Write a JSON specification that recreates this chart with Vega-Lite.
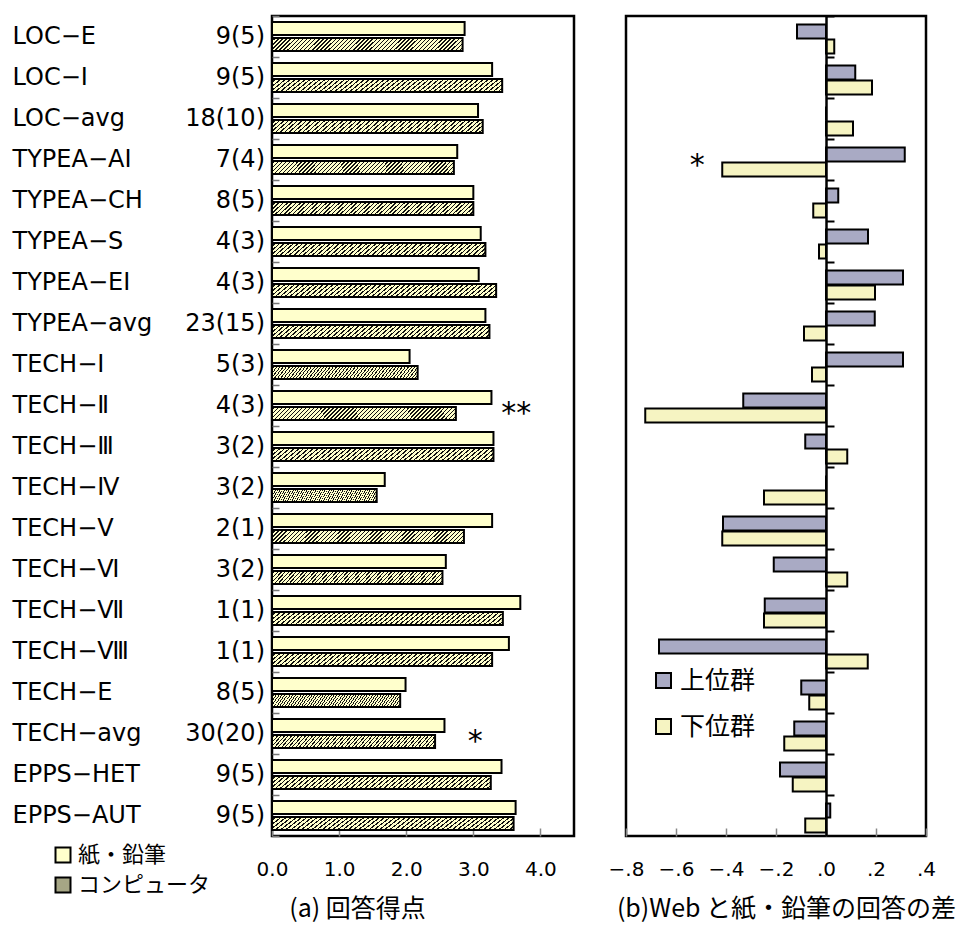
{
  "$schema": "https://vega.github.io/schema/vega-lite/v6.json",
  "padding": {"left": 10, "top": 2, "right": 0, "bottom": 0},
  "background": "white",
  "config": {
    "view": {"stroke": null},
    "axis": {"labelColor": "black", "titleColor": "black", "grid": false},
    "legend": {"padding": 0}
  },
  "datasets": {
    "labels": [
      {"key": "LOC−E", "count": "9(5)"},
      {"key": "LOC−I", "count": "9(5)"},
      {"key": "LOC−avg", "count": "18(10)"},
      {"key": "TYPEA−AI", "count": "7(4)"},
      {"key": "TYPEA−CH", "count": "8(5)"},
      {"key": "TYPEA−S", "count": "4(3)"},
      {"key": "TYPEA−EI", "count": "4(3)"},
      {"key": "TYPEA−avg", "count": "23(15)"},
      {"key": "TECH−Ⅰ", "count": "5(3)"},
      {"key": "TECH−Ⅱ", "count": "4(3)"},
      {"key": "TECH−Ⅲ", "count": "3(2)"},
      {"key": "TECH−Ⅳ", "count": "3(2)"},
      {"key": "TECH−Ⅴ", "count": "2(1)"},
      {"key": "TECH−Ⅵ", "count": "3(2)"},
      {"key": "TECH−Ⅶ", "count": "1(1)"},
      {"key": "TECH−Ⅷ", "count": "1(1)"},
      {"key": "TECH−E", "count": "8(5)"},
      {"key": "TECH−avg", "count": "30(20)"},
      {"key": "EPPS−HET", "count": "9(5)"},
      {"key": "EPPS−AUT", "count": "9(5)"}
    ],
    "scores": [
      {"key": "LOC−E", "series": "紙・鉛筆", "value": 2.87},
      {"key": "LOC−E", "series": "コンピュータ", "value": 2.84},
      {"key": "LOC−I", "series": "紙・鉛筆", "value": 3.28},
      {"key": "LOC−I", "series": "コンピュータ", "value": 3.43},
      {"key": "LOC−avg", "series": "紙・鉛筆", "value": 3.07},
      {"key": "LOC−avg", "series": "コンピュータ", "value": 3.14},
      {"key": "TYPEA−AI", "series": "紙・鉛筆", "value": 2.76},
      {"key": "TYPEA−AI", "series": "コンピュータ", "value": 2.71},
      {"key": "TYPEA−CH", "series": "紙・鉛筆", "value": 3.0},
      {"key": "TYPEA−CH", "series": "コンピュータ", "value": 3.0},
      {"key": "TYPEA−S", "series": "紙・鉛筆", "value": 3.11},
      {"key": "TYPEA−S", "series": "コンピュータ", "value": 3.18},
      {"key": "TYPEA−EI", "series": "紙・鉛筆", "value": 3.08},
      {"key": "TYPEA−EI", "series": "コンピュータ", "value": 3.34},
      {"key": "TYPEA−avg", "series": "紙・鉛筆", "value": 3.18},
      {"key": "TYPEA−avg", "series": "コンピュータ", "value": 3.24},
      {"key": "TECH−Ⅰ", "series": "紙・鉛筆", "value": 2.05},
      {"key": "TECH−Ⅰ", "series": "コンピュータ", "value": 2.17},
      {"key": "TECH−Ⅱ", "series": "紙・鉛筆", "value": 3.27},
      {"key": "TECH−Ⅱ", "series": "コンピュータ", "value": 2.74},
      {"key": "TECH−Ⅲ", "series": "紙・鉛筆", "value": 3.3},
      {"key": "TECH−Ⅲ", "series": "コンピュータ", "value": 3.3},
      {"key": "TECH−Ⅳ", "series": "紙・鉛筆", "value": 1.68},
      {"key": "TECH−Ⅳ", "series": "コンピュータ", "value": 1.56},
      {"key": "TECH−Ⅴ", "series": "紙・鉛筆", "value": 3.28},
      {"key": "TECH−Ⅴ", "series": "コンピュータ", "value": 2.86},
      {"key": "TECH−Ⅵ", "series": "紙・鉛筆", "value": 2.59},
      {"key": "TECH−Ⅵ", "series": "コンピュータ", "value": 2.54},
      {"key": "TECH−Ⅶ", "series": "紙・鉛筆", "value": 3.7},
      {"key": "TECH−Ⅶ", "series": "コンピュータ", "value": 3.44},
      {"key": "TECH−Ⅷ", "series": "紙・鉛筆", "value": 3.53},
      {"key": "TECH−Ⅷ", "series": "コンピュータ", "value": 3.28},
      {"key": "TECH−E", "series": "紙・鉛筆", "value": 1.99},
      {"key": "TECH−E", "series": "コンピュータ", "value": 1.91},
      {"key": "TECH−avg", "series": "紙・鉛筆", "value": 2.57},
      {"key": "TECH−avg", "series": "コンピュータ", "value": 2.43},
      {"key": "EPPS−HET", "series": "紙・鉛筆", "value": 3.42},
      {"key": "EPPS−HET", "series": "コンピュータ", "value": 3.26},
      {"key": "EPPS−AUT", "series": "紙・鉛筆", "value": 3.63},
      {"key": "EPPS−AUT", "series": "コンピュータ", "value": 3.6}
    ],
    "diff": [
      {"key": "LOC−E", "group": "上位群", "value": -0.116},
      {"key": "LOC−E", "group": "下位群", "value": 0.033},
      {"key": "LOC−I", "group": "上位群", "value": 0.117},
      {"key": "LOC−I", "group": "下位群", "value": 0.184},
      {"key": "LOC−avg", "group": "上位群", "value": 0},
      {"key": "LOC−avg", "group": "下位群", "value": 0.108},
      {"key": "TYPEA−AI", "group": "上位群", "value": 0.315},
      {"key": "TYPEA−AI", "group": "下位群", "value": -0.415},
      {"key": "TYPEA−CH", "group": "上位群", "value": 0.049},
      {"key": "TYPEA−CH", "group": "下位群", "value": -0.051},
      {"key": "TYPEA−S", "group": "上位群", "value": 0.168},
      {"key": "TYPEA−S", "group": "下位群", "value": -0.028},
      {"key": "TYPEA−EI", "group": "上位群", "value": 0.308},
      {"key": "TYPEA−EI", "group": "下位群", "value": 0.196},
      {"key": "TYPEA−avg", "group": "上位群", "value": 0.195},
      {"key": "TYPEA−avg", "group": "下位群", "value": -0.088},
      {"key": "TECH−Ⅰ", "group": "上位群", "value": 0.308},
      {"key": "TECH−Ⅰ", "group": "下位群", "value": -0.056},
      {"key": "TECH−Ⅱ", "group": "上位群", "value": -0.331},
      {"key": "TECH−Ⅱ", "group": "下位群", "value": -0.723},
      {"key": "TECH−Ⅲ", "group": "上位群", "value": -0.083},
      {"key": "TECH−Ⅲ", "group": "下位群", "value": 0.085},
      {"key": "TECH−Ⅳ", "group": "上位群", "value": 0},
      {"key": "TECH−Ⅳ", "group": "下位群", "value": -0.248},
      {"key": "TECH−Ⅴ", "group": "上位群", "value": -0.412},
      {"key": "TECH−Ⅴ", "group": "下位群", "value": -0.415},
      {"key": "TECH−Ⅵ", "group": "上位群", "value": -0.209},
      {"key": "TECH−Ⅵ", "group": "下位群", "value": 0.085},
      {"key": "TECH−Ⅶ", "group": "上位群", "value": -0.245},
      {"key": "TECH−Ⅶ", "group": "下位群", "value": -0.248},
      {"key": "TECH−Ⅷ", "group": "上位群", "value": -0.668},
      {"key": "TECH−Ⅷ", "group": "下位群", "value": 0.167},
      {"key": "TECH−E", "group": "上位群", "value": -0.099},
      {"key": "TECH−E", "group": "下位群", "value": -0.067},
      {"key": "TECH−avg", "group": "上位群", "value": -0.127},
      {"key": "TECH−avg", "group": "下位群", "value": -0.167},
      {"key": "EPPS−HET", "group": "上位群", "value": -0.184},
      {"key": "EPPS−HET", "group": "下位群", "value": -0.133},
      {"key": "EPPS−AUT", "group": "上位群", "value": 0.017},
      {"key": "EPPS−AUT", "group": "下位群", "value": -0.083}
    ],
    "notesA": [
      {"key": "TECH−Ⅱ", "x": 3.64, "mark": "**"},
      {"key": "TECH−avg", "x": 3.03, "mark": "*"}
    ],
    "notesB": [
      {"key": "TYPEA−AI", "x": -0.515, "mark": "*"}
    ]
  },
  "bounds": "flush",
  "spacing": 52,
  "hconcat": [
    {
      "width": 302,
      "height": 820,
      "view": {"stroke": "black", "strokeWidth": 2.5},
      "encoding": {
        "y": {
          "field": "key", "type": "nominal",
          "sort": ["LOC−E","LOC−I","LOC−avg","TYPEA−AI","TYPEA−CH","TYPEA−S","TYPEA−EI","TYPEA−avg","TECH−Ⅰ","TECH−Ⅱ","TECH−Ⅲ","TECH−Ⅳ","TECH−Ⅴ","TECH−Ⅵ","TECH−Ⅶ","TECH−Ⅷ","TECH−E","TECH−avg","EPPS−HET","EPPS−AUT"],
          "scale": {"paddingInner": 0, "paddingOuter": 0},
          "axis": {
            "title": null, "domain": false, "tickSize": -7, "tickColor": "#777", "tickWidth": 1.5, "tickBand": "extent",
            "labelAlign": "left", "labelBaseline": "middle", "labelPadding": 267, "labelLimit": 300,
            "labelFont": "DejaVu Sans", "labelFontSize": 24
          }
        }
      },
      "layer": [
        {
          "data": {"name": "scores"},
          "transform": [{"filter": "datum.series === '紙・鉛筆'"}],
          "mark": {"type": "bar", "stroke": "black", "strokeWidth": 2, "height": {"band": 0.32}, "yOffset": -8},
          "encoding": {
            "x": {
              "field": "value", "type": "quantitative",
              "scale": {"domain": [0, 4.5], "nice": false},
              "axis": {
                "values": [0, 1, 2, 3, 4], "format": ".1f", "title": "(a)  回答得点",
                "domain": false, "tickSize": -8, "tickColor": "#888", "tickWidth": 1.5,
                "labelFont": "DejaVu Sans", "labelFontSize": 20, "labelPadding": 31, "labelFlush": false,
                "titleFont": "Noto Sans CJK JP", "titleFontSize": 25, "titleFontWeight": "normal",
                "titleX": 85, "titleY": 72, "titleBaseline": "middle", "titleAlign": "center"
              }
            },
            "color": {
              "field": "series", "type": "nominal",
              "scale": {"domain": ["紙・鉛筆", "コンピュータ"], "range": ["#ffffcc", "#a6a685"]},
              "legend": {
                "title": null, "orient": "none", "legendX": -220, "legendY": 828,
                "symbolType": "square", "symbolSize": 225, "symbolStrokeColor": "black", "symbolStrokeWidth": 2,
                "labelFont": "Noto Sans CJK JP", "labelFontSize": 22, "labelColor": "black", "labelOffset": 4, "rowPadding": 6
              }
            }
          }
        },
        {
          "data": {"name": "scores"},
          "transform": [{"filter": "datum.series === 'コンピュータ'"}],
          "mark": {"type": "bar", "stroke": "black", "strokeWidth": 2, "height": {"band": 0.32}, "yOffset": 8,
            "fill": {"gradient": "linear", "x1": 0, "y1": 0, "x2": 1.07, "y2": 0.075, "stops": [
{"offset":0,"color":"#ffc"},{"offset":0.013,"color":"#ffc"},{"offset":0.013,"color":"#111"},{"offset":0.02,"color":"#111"},
{"offset":0.02,"color":"#ffc"},{"offset":0.033,"color":"#ffc"},{"offset":0.033,"color":"#111"},{"offset":0.04,"color":"#111"},
{"offset":0.04,"color":"#ffc"},{"offset":0.053,"color":"#ffc"},{"offset":0.053,"color":"#111"},{"offset":0.06,"color":"#111"},
{"offset":0.06,"color":"#ffc"},{"offset":0.073,"color":"#ffc"},{"offset":0.073,"color":"#111"},{"offset":0.08,"color":"#111"},
{"offset":0.08,"color":"#ffc"},{"offset":0.093,"color":"#ffc"},{"offset":0.093,"color":"#111"},{"offset":0.1,"color":"#111"},
{"offset":0.1,"color":"#ffc"},{"offset":0.113,"color":"#ffc"},{"offset":0.113,"color":"#111"},{"offset":0.12,"color":"#111"},
{"offset":0.12,"color":"#ffc"},{"offset":0.133,"color":"#ffc"},{"offset":0.133,"color":"#111"},{"offset":0.14,"color":"#111"},
{"offset":0.14,"color":"#ffc"},{"offset":0.153,"color":"#ffc"},{"offset":0.153,"color":"#111"},{"offset":0.16,"color":"#111"},
{"offset":0.16,"color":"#ffc"},{"offset":0.173,"color":"#ffc"},{"offset":0.173,"color":"#111"},{"offset":0.18,"color":"#111"},
{"offset":0.18,"color":"#ffc"},{"offset":0.193,"color":"#ffc"},{"offset":0.193,"color":"#111"},{"offset":0.2,"color":"#111"},
{"offset":0.2,"color":"#ffc"},{"offset":0.213,"color":"#ffc"},{"offset":0.213,"color":"#111"},{"offset":0.22,"color":"#111"},
{"offset":0.22,"color":"#ffc"},{"offset":0.233,"color":"#ffc"},{"offset":0.233,"color":"#111"},{"offset":0.24,"color":"#111"},
{"offset":0.24,"color":"#ffc"},{"offset":0.253,"color":"#ffc"},{"offset":0.253,"color":"#111"},{"offset":0.26,"color":"#111"},
{"offset":0.26,"color":"#ffc"},{"offset":0.273,"color":"#ffc"},{"offset":0.273,"color":"#111"},{"offset":0.28,"color":"#111"},
{"offset":0.28,"color":"#ffc"},{"offset":0.293,"color":"#ffc"},{"offset":0.293,"color":"#111"},{"offset":0.3,"color":"#111"},
{"offset":0.3,"color":"#ffc"},{"offset":0.313,"color":"#ffc"},{"offset":0.313,"color":"#111"},{"offset":0.32,"color":"#111"},
{"offset":0.32,"color":"#ffc"},{"offset":0.333,"color":"#ffc"},{"offset":0.333,"color":"#111"},{"offset":0.34,"color":"#111"},
{"offset":0.34,"color":"#ffc"},{"offset":0.353,"color":"#ffc"},{"offset":0.353,"color":"#111"},{"offset":0.36,"color":"#111"},
{"offset":0.36,"color":"#ffc"},{"offset":0.373,"color":"#ffc"},{"offset":0.373,"color":"#111"},{"offset":0.38,"color":"#111"},
{"offset":0.38,"color":"#ffc"},{"offset":0.393,"color":"#ffc"},{"offset":0.393,"color":"#111"},{"offset":0.4,"color":"#111"},
{"offset":0.4,"color":"#ffc"},{"offset":0.413,"color":"#ffc"},{"offset":0.413,"color":"#111"},{"offset":0.42,"color":"#111"},
{"offset":0.42,"color":"#ffc"},{"offset":0.433,"color":"#ffc"},{"offset":0.433,"color":"#111"},{"offset":0.44,"color":"#111"},
{"offset":0.44,"color":"#ffc"},{"offset":0.453,"color":"#ffc"},{"offset":0.453,"color":"#111"},{"offset":0.46,"color":"#111"},
{"offset":0.46,"color":"#ffc"},{"offset":0.473,"color":"#ffc"},{"offset":0.473,"color":"#111"},{"offset":0.48,"color":"#111"},
{"offset":0.48,"color":"#ffc"},{"offset":0.493,"color":"#ffc"},{"offset":0.493,"color":"#111"},{"offset":0.5,"color":"#111"},
{"offset":0.5,"color":"#ffc"},{"offset":0.513,"color":"#ffc"},{"offset":0.513,"color":"#111"},{"offset":0.52,"color":"#111"},
{"offset":0.52,"color":"#ffc"},{"offset":0.533,"color":"#ffc"},{"offset":0.533,"color":"#111"},{"offset":0.54,"color":"#111"},
{"offset":0.54,"color":"#ffc"},{"offset":0.553,"color":"#ffc"},{"offset":0.553,"color":"#111"},{"offset":0.56,"color":"#111"},
{"offset":0.56,"color":"#ffc"},{"offset":0.573,"color":"#ffc"},{"offset":0.573,"color":"#111"},{"offset":0.58,"color":"#111"},
{"offset":0.58,"color":"#ffc"},{"offset":0.593,"color":"#ffc"},{"offset":0.593,"color":"#111"},{"offset":0.6,"color":"#111"},
{"offset":0.6,"color":"#ffc"},{"offset":0.613,"color":"#ffc"},{"offset":0.613,"color":"#111"},{"offset":0.62,"color":"#111"},
{"offset":0.62,"color":"#ffc"},{"offset":0.633,"color":"#ffc"},{"offset":0.633,"color":"#111"},{"offset":0.64,"color":"#111"},
{"offset":0.64,"color":"#ffc"},{"offset":0.653,"color":"#ffc"},{"offset":0.653,"color":"#111"},{"offset":0.66,"color":"#111"},
{"offset":0.66,"color":"#ffc"},{"offset":0.673,"color":"#ffc"},{"offset":0.673,"color":"#111"},{"offset":0.68,"color":"#111"},
{"offset":0.68,"color":"#ffc"},{"offset":0.693,"color":"#ffc"},{"offset":0.693,"color":"#111"},{"offset":0.7,"color":"#111"},
{"offset":0.7,"color":"#ffc"},{"offset":0.713,"color":"#ffc"},{"offset":0.713,"color":"#111"},{"offset":0.72,"color":"#111"},
{"offset":0.72,"color":"#ffc"},{"offset":0.733,"color":"#ffc"},{"offset":0.733,"color":"#111"},{"offset":0.74,"color":"#111"},
{"offset":0.74,"color":"#ffc"},{"offset":0.753,"color":"#ffc"},{"offset":0.753,"color":"#111"},{"offset":0.76,"color":"#111"},
{"offset":0.76,"color":"#ffc"},{"offset":0.773,"color":"#ffc"},{"offset":0.773,"color":"#111"},{"offset":0.78,"color":"#111"},
{"offset":0.78,"color":"#ffc"},{"offset":0.793,"color":"#ffc"},{"offset":0.793,"color":"#111"},{"offset":0.8,"color":"#111"},
{"offset":0.8,"color":"#ffc"},{"offset":0.813,"color":"#ffc"},{"offset":0.813,"color":"#111"},{"offset":0.82,"color":"#111"},
{"offset":0.82,"color":"#ffc"},{"offset":0.833,"color":"#ffc"},{"offset":0.833,"color":"#111"},{"offset":0.84,"color":"#111"},
{"offset":0.84,"color":"#ffc"},{"offset":0.853,"color":"#ffc"},{"offset":0.853,"color":"#111"},{"offset":0.86,"color":"#111"},
{"offset":0.86,"color":"#ffc"},{"offset":0.873,"color":"#ffc"},{"offset":0.873,"color":"#111"},{"offset":0.88,"color":"#111"},
{"offset":0.88,"color":"#ffc"},{"offset":0.893,"color":"#ffc"},{"offset":0.893,"color":"#111"},{"offset":0.9,"color":"#111"},
{"offset":0.9,"color":"#ffc"},{"offset":0.913,"color":"#ffc"},{"offset":0.913,"color":"#111"},{"offset":0.92,"color":"#111"},
{"offset":0.92,"color":"#ffc"},{"offset":0.933,"color":"#ffc"},{"offset":0.933,"color":"#111"},{"offset":0.94,"color":"#111"},
{"offset":0.94,"color":"#ffc"},{"offset":0.953,"color":"#ffc"},{"offset":0.953,"color":"#111"},{"offset":0.96,"color":"#111"},
{"offset":0.96,"color":"#ffc"},{"offset":0.973,"color":"#ffc"},{"offset":0.973,"color":"#111"},{"offset":0.98,"color":"#111"},
{"offset":0.98,"color":"#ffc"},{"offset":0.993,"color":"#ffc"},{"offset":0.993,"color":"#111"},{"offset":1,"color":"#111"}
            ]}},
          "encoding": {
            "x": {"field": "value", "type": "quantitative"}
          }
        },
        {
          "data": {"name": "labels"},
          "mark": {"type": "text", "align": "right", "baseline": "middle", "dx": -7, "font": "DejaVu Sans", "fontSize": 24, "color": "black"},
          "encoding": {
            "x": {"datum": 0, "type": "quantitative"},
            "text": {"field": "count"}
          }
        },
        {
          "data": {"name": "notesA"},
          "mark": {"type": "text", "align": "center", "baseline": "middle", "fontSize": 30, "font": "DejaVu Sans", "dy": 8, "color": "black"},
          "encoding": {
            "x": {"field": "x", "type": "quantitative"},
            "text": {"field": "mark"}
          }
        }
      ]
    },
    {
      "width": 300,
      "height": 820,
      "view": {"stroke": "black", "strokeWidth": 2.5},
      "encoding": {
        "y": {
          "field": "key", "type": "nominal",
          "sort": ["LOC−E","LOC−I","LOC−avg","TYPEA−AI","TYPEA−CH","TYPEA−S","TYPEA−EI","TYPEA−avg","TECH−Ⅰ","TECH−Ⅱ","TECH−Ⅲ","TECH−Ⅳ","TECH−Ⅴ","TECH−Ⅵ","TECH−Ⅶ","TECH−Ⅷ","TECH−E","TECH−avg","EPPS−HET","EPPS−AUT"],
          "scale": {"paddingInner": 0, "paddingOuter": 0},
          "axis": {"title": null, "labels": false, "offset": -200, "domain": true, "domainColor": "black", "domainWidth": 2.5, "tickSize": -8, "tickColor": "black", "tickWidth": 2, "bandPosition": 0, "zindex": 1}
        }
      },
      "layer": [
        {
          "data": {"name": "diff"},
          "transform": [{"filter": "datum.group === '上位群'"}],
          "mark": {"type": "bar", "stroke": "black", "strokeWidth": 2, "height": {"band": 0.34}, "yOffset": -5},
          "encoding": {
            "x": {
              "field": "value", "type": "quantitative",
              "scale": {"domain": [-0.8, 0.4], "nice": false, "zero": false},
              "axis": {
                "values": [-0.8, -0.6, -0.4, -0.2, 0, 0.2, 0.4],
                "labelExpr": "datum.value < -0.001 ? '−' + substring(format(-datum.value, '.1f'), 1) : substring(format(abs(datum.value), '.1f'), 1)",
                "title": "(b)Web と紙・鉛筆の回答の差",
                "domain": false, "tickSize": -8, "tickColor": "#888", "tickWidth": 1.5,
                "labelFont": "DejaVu Sans", "labelFontSize": 20, "labelPadding": 31, "labelFlush": false,
                "titleFont": "Noto Sans CJK JP", "titleFontSize": 25, "titleFontWeight": "normal",
                "titleX": 160, "titleY": 72, "titleBaseline": "middle", "titleAlign": "center"
              }
            },
            "color": {
              "field": "group", "type": "nominal",
              "scale": {"domain": ["上位群", "下位群"], "range": ["#a9aac4", "#f6f4c2"]},
              "legend": {
                "title": null, "orient": "none", "legendX": 25, "legendY": 652,
                "symbolType": "square", "symbolSize": 225, "symbolStrokeColor": "black", "symbolStrokeWidth": 2,
                "labelFont": "Noto Sans CJK JP", "labelFontSize": 25, "labelColor": "black", "labelOffset": 4, "rowPadding": 20
              }
            }
          }
        },
        {
          "data": {"name": "diff"},
          "transform": [{"filter": "datum.group === '下位群'"}],
          "mark": {"type": "bar", "stroke": "black", "strokeWidth": 2, "height": {"band": 0.34}, "yOffset": 10},
          "encoding": {
            "x": {"field": "value", "type": "quantitative"},
            "color": {
              "field": "group", "type": "nominal",
              "scale": {"domain": ["上位群", "下位群"], "range": ["#a9aac4", "#f6f4c2"]},
              "legend": {
                "title": null, "orient": "none", "legendX": 25, "legendY": 652,
                "symbolType": "square", "symbolSize": 225, "symbolStrokeColor": "black", "symbolStrokeWidth": 2,
                "labelFont": "Noto Sans CJK JP", "labelFontSize": 25, "labelColor": "black", "labelOffset": 4, "rowPadding": 20
              }
            }
          }
        },
        {
          "data": {"name": "notesB"},
          "mark": {"type": "text", "align": "center", "baseline": "middle", "fontSize": 30, "font": "DejaVu Sans", "dy": 6, "color": "black"},
          "encoding": {
            "x": {"field": "x", "type": "quantitative"},
            "text": {"field": "mark"}
          }
        }
      ]
    }
  ],
  "resolve": {"scale": {"color": "independent"}}
}
